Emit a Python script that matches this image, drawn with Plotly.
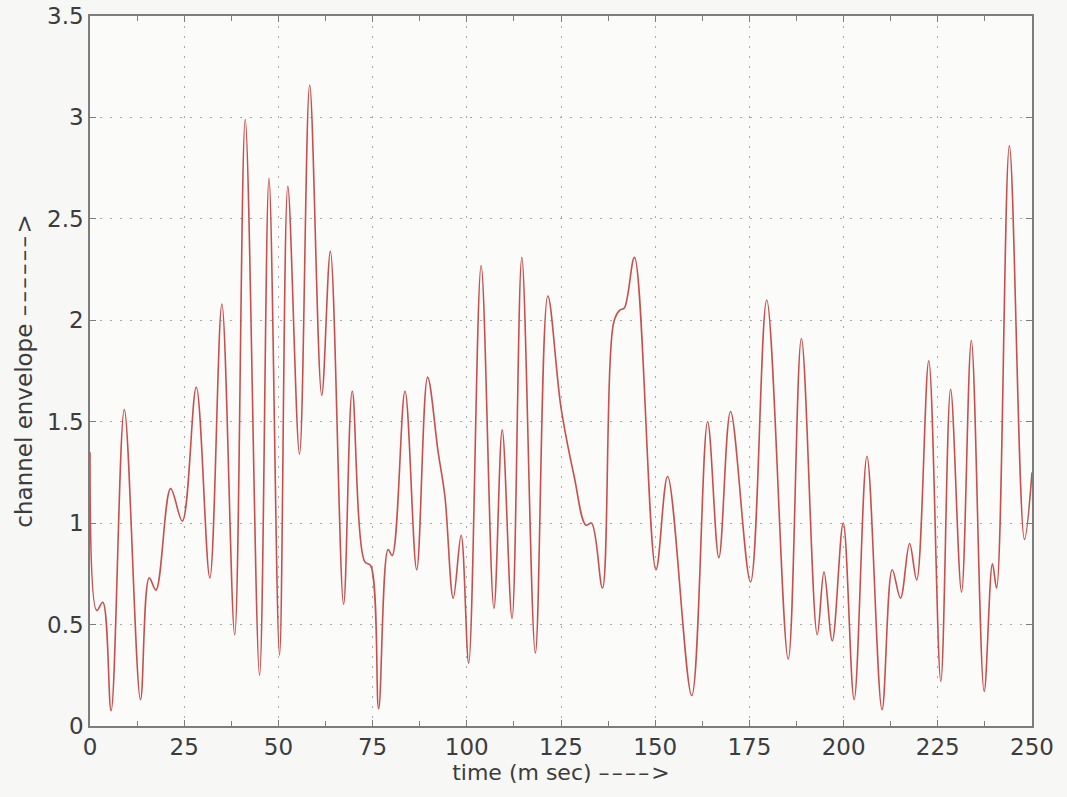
import plotly.graph_objects as go

# time (ms) and channel envelope values (extrema + shoulders)
time_ms = [0, 1.8, 3.4, 5.6, 9.1, 13.4, 15.7, 17.5, 21.4, 24.5, 28.2, 31.8, 35.0, 38.4,
           41.2, 45.0, 47.5, 50.3, 52.5, 55.6, 58.3, 61.5, 63.8, 67.3, 69.6, 72.9, 74.5,
           76.6, 79.1, 80.2, 83.6, 86.7, 89.6, 92.4, 94.2, 96.4, 98.5, 100.5, 103.8,
           107.2, 109.4, 112.0, 114.6, 118.2, 121.5, 125.0, 128.5, 131.6, 133.1, 136.0,
           139.0, 140.6, 141.8, 144.5, 150.2, 153.3, 159.7, 163.9, 166.9, 170.0, 175.3,
           179.6, 185.3, 188.8, 193.0, 194.8, 197.0, 199.9, 202.8, 206.2, 210.2, 212.9,
           215.1, 217.5, 219.4, 222.6, 225.8, 228.4, 231.3, 233.9, 237.3, 239.5, 240.6,
           244.0, 248.0, 250.0]
envelope = [1.35, 0.57, 0.61, 0.075, 1.56, 0.13, 0.73, 0.67, 1.17, 1.01, 1.67, 0.73, 2.08, 0.45,
            2.99, 0.25, 2.70, 0.35, 2.66, 1.34, 3.16, 1.63, 2.34, 0.60, 1.65, 0.81, 0.79,
            0.085, 0.87, 0.84, 1.65, 0.77, 1.72, 1.35, 1.13, 0.63, 0.94, 0.31, 2.27,
            0.58, 1.46, 0.53, 2.31, 0.36, 2.12, 1.57, 1.23, 0.99, 1.00, 0.68,
            1.99, 2.05, 2.06, 2.31, 0.77, 1.23, 0.15, 1.50, 0.83, 1.55, 0.71,
            2.10, 0.33, 1.91, 0.45, 0.76, 0.42, 1.00, 0.13, 1.33, 0.08, 0.77,
            0.63, 0.90, 0.72, 1.80, 0.22, 1.66, 0.66, 1.90, 0.17, 0.80, 0.68,
            2.86, 0.92, 1.25]

x_ticks = [0, 25, 50, 75, 100, 125, 150, 175, 200, 225, 250]
y_ticks = [0, 0.5, 1, 1.5, 2, 2.5, 3, 3.5]
y_tick_labels = ["0", "0.5", "1", "1.5", "2", "2.5", "3", "3.5"]

x_title = "time (m sec) " + "\u2013\u200a" * 4 + ">"
y_title = "channel envelope " + "\u2013\u200a" * 6 + ">"

FONT = "DejaVu Sans, Liberation Sans, Arial, sans-serif"
TXT = "#3c3c3c"

fig = go.Figure()
fig.add_trace(go.Scatter(
    x=time_ms, y=envelope, mode="lines",
    line=dict(color="#c5514e", width=1.6, shape="spline", smoothing=1.0),
    showlegend=False,
))

axis_common = dict(
    showline=True, linecolor="#7d7d7d", linewidth=1.5, mirror="ticks",
    ticks="inside", ticklen=6, tickcolor="#7d7d7d",
    showgrid=True, gridcolor="#a8a8a8", griddash="2px,8px", gridwidth=1,
    zeroline=False, automargin=False,
    tickfont=dict(family=FONT, size=23, color=TXT),
)

fig.update_xaxes(
    range=[0, 250], tickvals=x_ticks, ticktext=[str(v) for v in x_ticks],
    title=dict(text=x_title, standoff=2, font=dict(family=FONT, size=22, color=TXT)),
    minor=dict(tickvals=[12.5 + 25 * i for i in range(10)], ticks="inside", ticklen=5,
               tickcolor="#7d7d7d", showgrid=False),
    **axis_common,
)
fig.update_yaxes(
    range=[0, 3.5], tickvals=y_ticks, ticktext=y_tick_labels,
    title=dict(text=y_title, standoff=8, font=dict(family=FONT, size=23, color=TXT)),
    **axis_common,
)

fig.update_layout(
    width=1067, height=797,
    margin=dict(l=90, r=35, t=16, b=71),
    paper_bgcolor="#f7f7f6", plot_bgcolor="#fbfbfa",
)

fig.write_html("out.html")
